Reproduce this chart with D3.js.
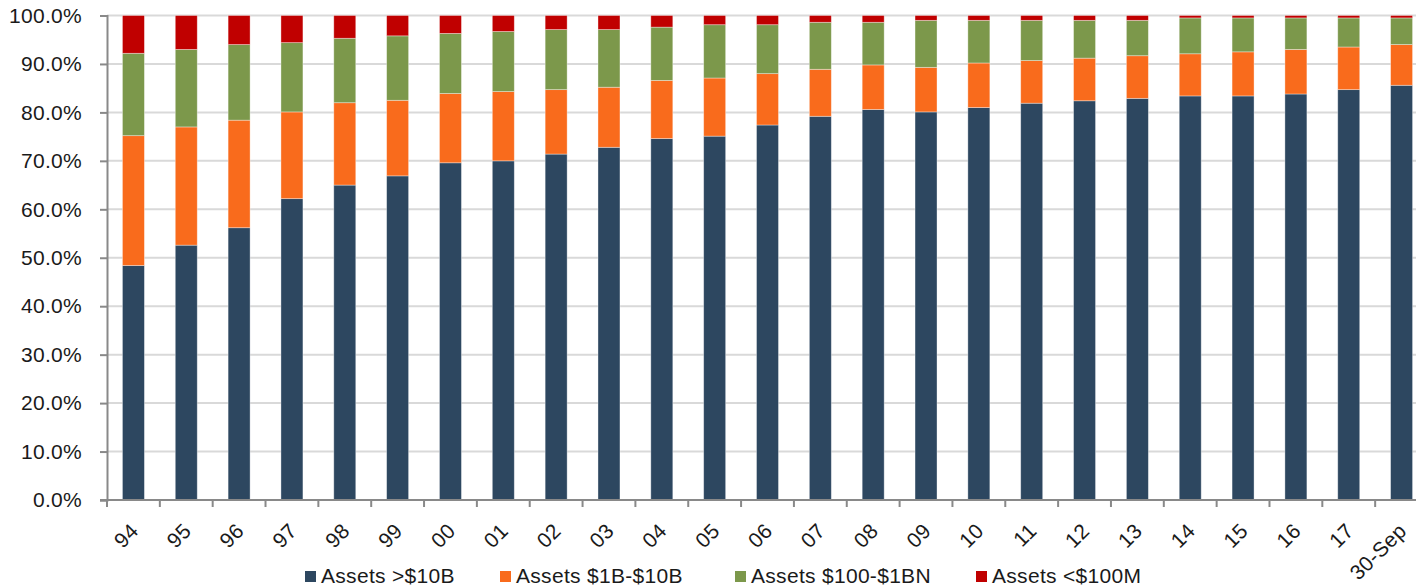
<!DOCTYPE html>
<html>
<head>
<meta charset="utf-8">
<script src="https://cdn.jsdelivr.net/npm/d3@7"></script>
<style>
  html, body { margin: 0; padding: 0; background: #fff; }
  svg { display: block; }
  text { font-family: "Liberation Sans", Arial, sans-serif; fill: #1a1a1a; }
</style>
</head>
<body>
<svg id="chart" width="1416" height="588"></svg>
<script>
// Year-end labels (last one is a quarter-end)
const categories = ["94","95","96","97","98","99","00","01","02","03","04","05","06","07","08","09","10","11","12","13","14","15","16","17","30-Sep"];

// Share of industry assets (%) by bank size bucket
const assetsOver10B   = [48.4,52.6,56.2,62.2,65.0,66.9,69.6,70.0,71.4,72.8,74.6,75.1,77.4,79.2,80.6,80.1,81.0,81.9,82.4,82.9,83.4,83.4,83.8,84.7,85.6];
const assets1Bto10B   = [26.8,24.4,22.2,17.9,17.0,15.6,14.3,14.3,13.3,12.4,12.0,12.0,10.6, 9.7, 9.2, 9.2, 9.2, 8.8, 8.8, 8.8, 8.7, 9.1, 9.2, 8.8, 8.4];
const assets100Mto1B  = [17.0,16.0,15.6,14.3,13.3,13.3,12.4,12.4,12.4,11.9,11.0,11.0,10.1, 9.7, 8.8, 9.7, 8.8, 8.3, 7.8, 7.3, 7.4, 7.0, 6.5, 6.0, 5.5];
const assetsUnder100M = [ 7.8, 7.0, 6.0, 5.6, 4.7, 4.2, 3.7, 3.3, 2.9, 2.9, 2.4, 1.9, 1.9, 1.4, 1.4, 1.0, 1.0, 1.0, 1.0, 1.0, 0.5, 0.5, 0.5, 0.5, 0.5];

const seriesNames  = ["Assets >$10B", "Assets $1B-$10B", "Assets $100-$1BN", "Assets <$100M"];
const seriesColors = ["#2d4760", "#f96b1c", "#7c984b", "#c00000"];
const yTicks = [0,10,20,30,40,50,60,70,80,90,100];

const seriesValues = [assetsOver10B, assets1Bto10B, assets100Mto1B, assetsUnder100M];
const rows = categories.map((c, i) => {
  const r = { cat: c };
  seriesNames.forEach((n, k) => { r[n] = seriesValues[k][i]; });
  return r;
});

const svg = d3.select("#chart");
const plotLeft = 107, plotRight = 1428, plotTop = 15.5, plotBottom = 500;
const fontSize = 21, spacing = 0.3;

const x = d3.scaleBand().domain(categories).range([plotLeft, plotRight])
  .paddingInner(0.584).paddingOuter(0.292);
const y = d3.scaleLinear().domain([0, 100]).range([plotBottom, plotTop]);

// Gridlines
svg.append("g").selectAll("line").data(yTicks.filter(d => d > 0)).join("line")
  .attr("x1", plotLeft).attr("x2", 1416)
  .attr("y1", d => y(d)).attr("y2", d => y(d))
  .attr("stroke", "#d9d9d9").attr("stroke-width", 2);

// Stacked bars
const stack = d3.stack().keys(seriesNames)(rows);
svg.append("g").selectAll("g").data(stack).join("g")
  .attr("fill", (d, i) => seriesColors[i])
  .selectAll("rect").data(d => d).join("rect")
  .attr("x", d => x(d.data.cat))
  .attr("width", x.bandwidth())
  .attr("y", d => y(d[1]))
  .attr("height", d => y(d[0]) - y(d[1]))
  .attr("stroke", "rgba(255,255,255,0.45)")
  .attr("stroke-width", 0.8);

// Y axis
const yAxis = svg.append("g").attr("transform", `translate(${plotLeft},0)`)
  .call(d3.axisLeft(y).tickValues(yTicks).tickSize(7).tickPadding(18)
    .tickFormat(d => d.toFixed(1) + "%"));
yAxis.select(".domain").attr("stroke", "#898989").attr("stroke-width", 2);
yAxis.selectAll(".tick line").attr("stroke", "#898989").attr("stroke-width", 2);
yAxis.selectAll(".tick text").attr("font-size", fontSize).attr("letter-spacing", spacing)
  .attr("fill", "#1a1a1a").style("font-family", "'Liberation Sans', Arial, sans-serif");

// X axis with ticks at category boundaries
const xg = svg.append("g");
xg.append("line").attr("x1", plotLeft - 7).attr("x2", 1416)
  .attr("y1", plotBottom).attr("y2", plotBottom)
  .attr("stroke", "#898989").attr("stroke-width", 2);
xg.selectAll("line.tk").data(categories).join("line").attr("class", "tk")
  .attr("x1", c => x(c) + x.bandwidth() / 2 - x.step() / 2)
  .attr("x2", c => x(c) + x.bandwidth() / 2 - x.step() / 2)
  .attr("y1", plotBottom).attr("y2", plotBottom + 7)
  .attr("stroke", "#898989").attr("stroke-width", 2);
xg.selectAll("text").data(categories).join("text")
  .attr("transform", c => `translate(${x(c) + x.bandwidth() / 2 + 1},${plotBottom + 27}) rotate(-45)`)
  .attr("text-anchor", "end")
  .attr("dy", "0.35em")
  .attr("font-size", fontSize).attr("letter-spacing", spacing)
  .text(c => c);

// Legend
const legendX = [305, 500, 735, 976];
const lg = svg.append("g").selectAll("g").data(seriesNames).join("g")
  .attr("transform", (d, i) => `translate(${legendX[i]},571)`);
lg.append("rect").attr("width", 11).attr("height", 11).attr("y", 0)
  .attr("fill", (d, i) => seriesColors[i]);
lg.append("text").attr("x", 16).attr("y", 12).attr("font-size", fontSize)
  .attr("letter-spacing", spacing).text(d => d);
</script>
</body>
</html>
